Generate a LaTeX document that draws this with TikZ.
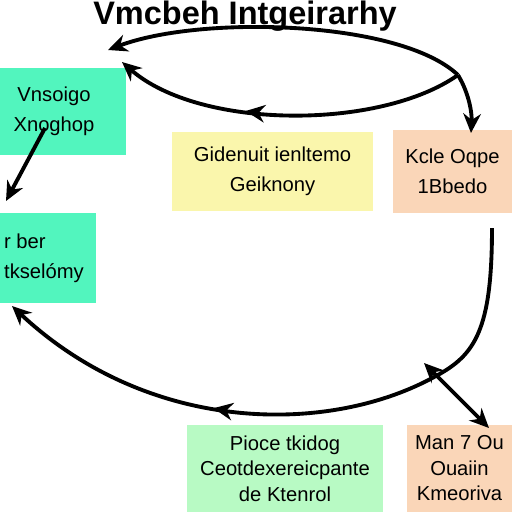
\documentclass[tikz,border=0pt]{standalone}
\usepackage{fontspec}
\setmainfont{Liberation Sans}
\usetikzlibrary{arrows.meta,decorations.markings}
\definecolor{mint}{RGB}{82,245,190}
\definecolor{lemon}{RGB}{250,246,172}
\definecolor{peach}{RGB}{250,214,184}
\definecolor{pale}{RGB}{184,250,196}
\tikzset{
  card/.style={fill=#1, draw=none, inner sep=0pt, align=center,
    font=\fontsize{11.5}{17}\selectfont},
  tight/.style={font=\fontsize{11.5}{14.5}\selectfont},
  flow/.style={line width=2.2pt, -{Stealth[length=11pt,width=10pt]}},
  plainflow/.style={line width=2.2pt},
  midtip/.style={postaction={decorate}, decoration={markings,
    mark=at position #1 with {\arrow{Stealth[length=11pt,width=10pt]}}}}
}
\begin{document}
\begin{tikzpicture}[x=0.02cm, y=-0.02cm]
  \clip (0,0) rectangle (512,512);
  \fill[white] (0,0) rectangle (512,512);
  % Title
  \node[font=\bfseries\fontsize{18.5}{20}\selectfont] (title) at (245,16) {Vmcbeh Intgeirarhy};
  % Boxes
  \node[card=mint, minimum width=2.88cm, minimum height=1.74cm] (box1) at (54,111.5) {Vnsoigo\\Xnoghop};
  \node[card=lemon, minimum width=4.02cm, minimum height=1.58cm] (box2) at (272.5,171.5) {Gidenuit ienltemo\\Geiknony};
  \node[card=peach, minimum width=2.38cm, minimum height=1.66cm] (box3) at (452.5,171.5) {Kcle Oqpe\\1Bbedo};
  \node[card=mint, align=left, minimum width=2.08cm, minimum height=1.8cm] (box4) at (44,258) {r ber\\tkselómy};
  \node[card=pale, tight, minimum width=3.92cm, minimum height=1.74cm] (box5) at (285,468.5) {Pioce tkidog\\Ceotdexereicpante\\de Ktenrol};
  \node[card=peach, tight, minimum width=2.1cm, minimum height=1.74cm] (box6) at (459.5,468.5) {Man 7 Ou\\Ouaiin\\Kmeoriva};
  % Free ends of the connectors
  \coordinate (loopR) at (458,75);
  \coordinate (loopA) at (108,50);
  \coordinate (loopB) at (122,62);
  \coordinate (out1) at (45,128);
  \coordinate (in4) at (6,201);
  \coordinate (out3) at (492,228);
  \coordinate (J) at (436,376);
  \coordinate (in4b) at (12,306);
  \coordinate (Jtip) at (424,363);
  \coordinate (in6) at (489,428);
  \coordinate (in3) at (471,133);
  % Top loop
  \draw[flow] (loopR) .. controls (400,20) and (200,15) .. (loopA);
  \draw[flow, midtip=0.62] (loopR) .. controls (380,130) and (200,130) .. (loopB);
  \draw[flow] (loopR) .. controls (470,95) and (472,115) .. (in3);
  % Left drop
  \draw[flow] (out1) -- (in4);
  % Lower loop
  \draw[plainflow] (out3) .. controls (492,330) and (475,355) .. (J);
  \draw[flow, midtip=0.5] (J) .. controls (330,435) and (150,435) .. (in4b);
  \draw[line width=2.2pt, {Stealth[length=11pt,width=10pt]}-{Stealth[length=11pt,width=10pt]}] (Jtip) -- (in6);
\end{tikzpicture}
\end{document}
